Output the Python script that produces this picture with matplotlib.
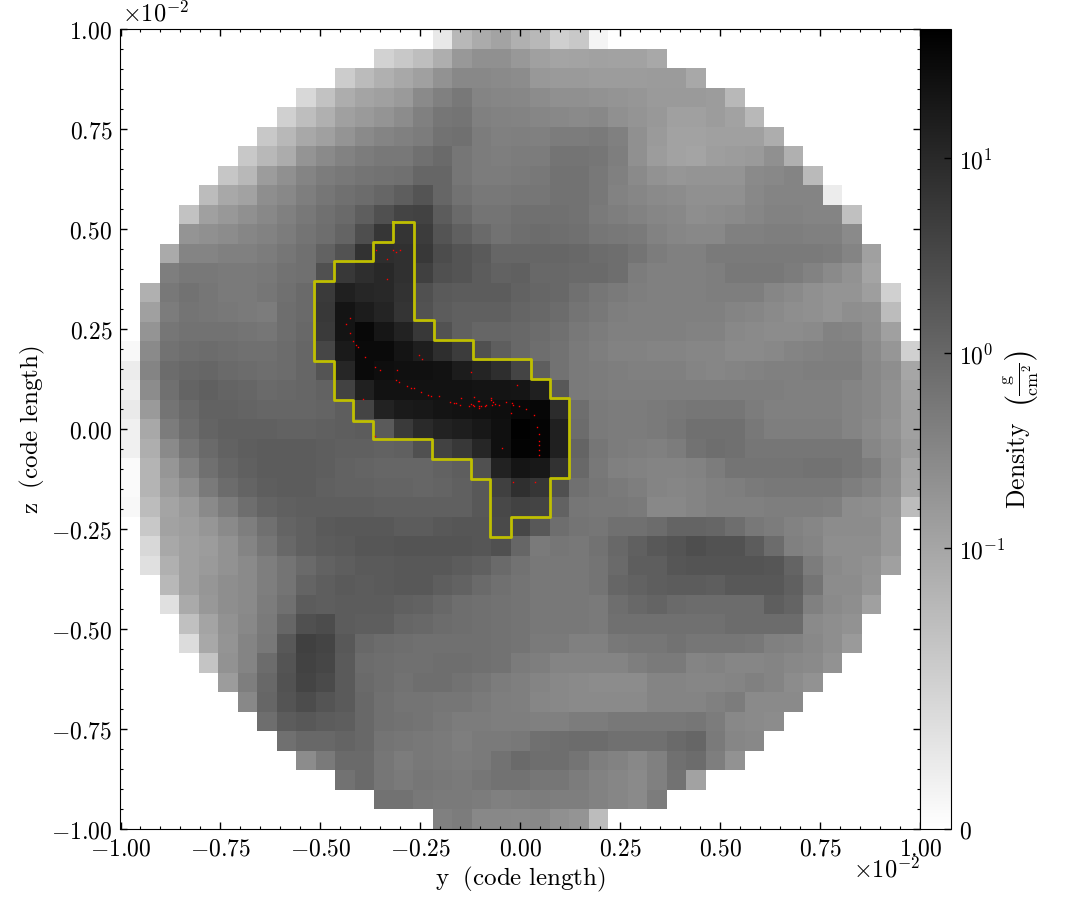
# Gas column density slice with sink particles and a yellow clump outline
import numpy as np
import matplotlib
matplotlib.use('Agg')
import matplotlib.pyplot as plt
from matplotlib.colors import SymLogNorm
from matplotlib.ticker import FuncFormatter, MultipleLocator

# Cell shades (00 = black, ff = white), top row first.
# Each row is one chord of the disk, so it is centred in the 41 column grid.
shade_rows = [
    "e8 b8 ab a3 b0 b8 cf c8 f4",
    "d2 c8 be ae 98 90 90 98 a0 a4 a3 a1 a2 a2 a8",
    "cc bb b0 a8 a0 92 88 88 8a 8c 98 9a 9a 9c 9c 9c 9b 9b a8",
    "d8 c2 ad a4 a0 9a 8a 80 78 84 86 87 8c 90 90 92 94 96 9a 9a 9a 9c b8",
    "d0 be b0 a0 9a 94 8c 80 76 74 80 82 83 86 88 8a 88 90 94 98 a0 a0 9c a2 b8",
    "c8 b8 a8 a0 94 8a 84 80 7c 72 70 7c 80 7f 80 7c 7c 7a 80 90 9a a2 a2 a0 a0 a0 ad",
    "c8 b8 ac 94 8a 82 7c 78 78 70 6a 76 7c 7e 7c 7c 74 74 76 7e 90 9c a2 a4 9e 9c 9a 90 b0",
    "c6 b8 9c 90 84 7c 78 74 72 70 66 66 76 7c 7c 7a 78 72 72 78 80 8a 92 96 94 94 94 8a 88 84 ba",
    "bc a8 a2 8e 88 7e 76 70 6c 66 5e 54 66 72 78 78 76 76 72 72 78 82 86 8a 8c 90 90 90 88 84 84 84 ec",
    "c2 a0 98 90 88 80 78 70 6a 5e 50 44 42 5c 6a 74 74 70 70 70 72 7a 7e 82 86 88 8e 8c 8a 86 82 82 84 84 c0",
    "94 90 8c 86 82 7c 74 6e 64 4e 36 34 3c 54 60 6a 72 6e 6c 6e 70 76 78 7a 82 86 88 88 80 80 7e 7e 80 80 8a",
    "aa 84 84 80 80 7c 76 70 62 52 32 2e 30 38 4c 54 5a 66 66 66 66 68 6c 6e 74 7c 80 80 7a 7a 7a 7a 7a 7a 7c 84 a0",
    "7e 78 78 7a 7a 78 72 70 50 38 2e 28 30 40 50 54 5c 62 60 68 68 6a 6a 6e 7c 80 80 80 7e 78 78 78 7c 82 8a 92 a4",
    "b0 78 72 76 7a 7a 76 70 6a 3a 20 26 28 32 50 5a 5c 5c 5c 62 66 68 70 76 7a 7e 80 80 80 7e 7e 7e 86 8a 90 94 94 9e d0",
    "a0 7c 74 76 78 7a 7c 6e 6a 38 14 1c 24 34 52 5c 60 60 60 65 68 6c 74 78 7e 80 80 80 80 80 84 86 8a 8e 90 94 8e 90 bc",
    "94 76 72 72 72 74 76 6e 68 3a 14 08 16 22 38 52 60 66 66 68 6c 70 78 7c 80 80 80 80 82 82 88 8a 8c 8c 8a 82 84 8e a0",
    "f8 8a 72 6e 6c 6e 70 70 6c 66 46 1a 0a 0a 14 1e 2e 3c 50 5e 68 6e 72 7a 7e 82 82 84 84 86 86 8a 8a 88 84 82 80 80 8a 96 d0",
    "ec 84 6c 68 66 6a 6c 6e 6c 66 54 26 0a 0e 10 10 12 1c 24 2e 44 5e 72 7a 7c 7e 80 80 80 84 86 84 82 80 80 7e 7e 7e 88 8e a6",
    "f0 8c 70 64 60 64 66 6a 68 66 62 42 20 12 12 12 12 12 14 14 15 20 58 7a 7c 7e 7e 7e 7e 7e 7e 7e 7e 7e 80 80 80 84 88 90 a2",
    "ea 9a 74 6a 62 62 64 66 66 66 64 5e 44 22 1a 18 14 12 10 0e 08 06 2c 6e 7a 7c 7c 7a 78 76 76 76 7c 80 80 80 80 84 88 90 a0",
    "f0 a8 7c 6e 64 60 60 60 62 62 60 5e 5c 5a 3a 2a 22 1e 18 10 01 04 20 6c 7a 7c 7c 7a 76 70 70 70 78 7e 7e 7e 7e 84 8a 92 a0",
    "f0 ae 8a 76 6a 62 5e 5c 5c 5c 5e 60 60 62 60 50 42 38 26 10 03 04 20 64 76 7c 7e 80 7c 72 6e 70 76 76 76 76 76 76 86 8e 9c",
    "fa b4 96 82 70 66 60 5c 5c 5c 5e 62 64 66 66 66 62 5e 50 22 15 18 32 68 78 80 82 84 84 82 7c 74 74 74 74 72 72 76 7c 8c a4",
    "fa b4 9c 8e 7a 6c 64 5e 5c 5c 60 62 62 64 64 66 64 60 58 40 2f 36 50 70 76 7a 7e 84 86 84 80 7e 7a 78 78 78 78 7e 84 8e a6",
    "f8 bc a4 9a 8a 7c 6e 64 60 5e 5e 5e 5e 60 60 60 60 60 58 48 42 44 62 76 78 78 7a 88 88 84 80 80 80 7e 7e 7e 80 8c 8e 94 bc",
    "c8 a2 9e 96 8a 7e 70 64 60 5a 58 58 58 5c 5c 58 56 56 4a 47 58 6e 74 76 70 70 6c 64 64 66 6e 78 7c 82 86 8c 8c 8c 98",
    "d8 a8 a0 9c 92 84 76 68 60 5c 5a 56 56 54 54 54 54 56 50 66 7a 76 78 72 68 60 58 54 4e 52 52 5c 6c 80 84 8e 8e 8e 98",
    "e0 b0 a0 9a 92 8a 7e 74 6a 62 5e 5a 5a 58 58 58 5c 60 6a 72 78 78 78 74 6a 5e 5e 56 54 54 54 54 56 64 7c 8a 8e 92 a0",
    "b8 a0 96 8e 8a 7e 74 64 5e 5a 5c 5a 58 58 5e 62 6a 70 74 78 78 78 74 66 62 5e 5c 5c 5e 58 58 58 60 74 8c 8c 94",
    "e0 aa 98 8e 8a 7c 70 5c 5e 5c 5c 5c 60 62 68 6e 70 72 74 78 78 78 7a 6e 68 64 6a 6c 6c 6c 6c 5e 64 80 8a 8e a0",
    "c0 a4 92 88 7a 66 50 4c 5c 5e 5e 66 68 6c 6e 70 72 74 78 78 78 7a 70 70 70 70 70 70 6c 6c 6c 6c 8a 8e 92",
    "dc a8 94 84 78 58 40 44 58 68 6c 6e 70 70 70 70 72 74 7a 7a 80 80 78 76 76 72 76 76 76 78 80 82 88 8e 9a",
    "c4 92 84 6c 54 42 46 5a 6c 6e 70 70 6e 6e 70 72 7b 7e 84 84 84 84 7e 7a 7a 84 82 86 86 84 88 8a 92",
    "9c 7e 68 52 44 4a 5a 6a 6e 72 6e 6e 72 76 7c 7f 84 88 8a 8c 8c 8c 84 84 86 86 84 80 84 8c 92",
    "88 66 54 4c 54 5a 68 70 74 74 76 76 7a 7e 7f 86 88 8a 8a 8a 8a 84 84 84 80 7c 8a 8a 8a",
    "6e 5c 58 5c 5e 68 70 72 74 78 7c 7c 7e 7e 80 80 7c 7c 78 78 78 78 76 7c 88 8a 8c",
    "70 68 68 64 68 74 76 78 7a 7e 7a 7a 78 70 6e 6c 6c 70 70 70 6a 66 7a 86 88",
    "8c 7a 6a 6a 76 7c 78 7a 7c 7a 72 6a 6e 6e 74 7e 82 88 80 70 6c 7e 92",
    "72 6a 76 7a 76 78 7a 76 72 72 76 76 7c 82 86 8a 80 72 a2",
    "72 72 78 7a 7a 7c 80 7e 7c 7e 7e 82 86 8a 7c",
    "80 7c 88 88 89 88 90 94 bc",
]

# clump outline, units of 1e-2 code length
contour_y = [-0.318, -0.267, -0.267, -0.217, -0.217, -0.119, -0.119, 0.026, 0.026, 0.075,
             0.075, 0.123, 0.123, 0.075, 0.075, -0.022, -0.022, -0.076, -0.076, -0.123,
             -0.123, -0.221, -0.221, -0.368, -0.368, -0.418, -0.418, -0.467, -0.467, -0.517,
             -0.517, -0.467, -0.467, -0.368, -0.368, -0.318, -0.318]
contour_z = [0.518, 0.518, 0.272, 0.272, 0.2225, 0.2225, 0.174, 0.174, 0.124, 0.124,
             0.077, 0.077, -0.1225, -0.1225, -0.221, -0.221, -0.271, -0.271, -0.124, -0.124,
             -0.076, -0.076, -0.026, -0.026, 0.021, 0.021, 0.072, 0.072, 0.17, 0.17,
             0.369, 0.369, 0.419, 0.419, 0.4675, 0.4675, 0.518]

# sink particles
part_y = [-0.426, -0.435, -0.426, -0.418, -0.411, -0.406, -0.389, -0.3625, -0.35, -0.309,
          -0.312, -0.304, -0.284, -0.2725, -0.266, -0.248, -0.231, -0.224, -0.2025, -0.175,
          -0.165, -0.161, -0.15, -0.1475, -0.116, -0.124, -0.127, -0.118, -0.115, -0.106,
          -0.1025, -0.104, -0.102, -0.0975, -0.088, -0.085, -0.0725, -0.0725, -0.068, -0.071,
          -0.064, -0.052, -0.035, -0.021, -0.017, -0.0025, 0.014, -0.0225, 0.034, 0.042,
          0.0475, 0.0475, 0.0475, 0.0475, 0.046, -0.046, -0.008, -0.124, -0.2525, -0.247,
          -0.3925, -0.3625, -0.018, 0.037, -0.36, -0.319, -0.312, -0.301, -0.334, -0.334]
part_z = [0.278, 0.262, 0.239, 0.221, 0.21, 0.205, 0.179, 0.154, 0.148, 0.147,
          0.1225, 0.118, 0.108, 0.1025, 0.1025, 0.0925, 0.085, 0.0825, 0.083, 0.0675,
          0.065, 0.064, 0.061, 0.0775, 0.08, 0.063, 0.0575, 0.06, 0.057, 0.071,
          0.07, 0.057, 0.0525, 0.057, 0.057, 0.061, 0.0775, 0.073, 0.068, 0.059,
          0.0625, 0.06, 0.067, 0.066, 0.061, 0.058, 0.05, 0.04, 0.034, 0.005,
          -0.012, -0.029, -0.039, -0.0525, -0.066, -0.0475, 0.11, 0.142, 0.184, 0.176,
          0.074, -0.017, -0.133, -0.132, 0.4475, 0.448, 0.4425, 0.448, 0.426, 0.376]

cbar_ticks = [0, 0.1, 1, 10]
cbar_labels = ['$0$', '$10^{-1}$', '$10^{0}$', '$10^{1}$']

plt.rcParams['mathtext.fontset'] = 'cm'
plt.rcParams['font.family'] = ['cmr10', 'DejaVu Serif']
plt.rcParams['axes.formatter.use_mathtext'] = True
fs = 17

norm = SymLogNorm(linthresh=0.047, linscale=1.0, vmin=0, vmax=46, base=10)

# shades go through the colorbar's scale to get densities back
n = 41
density = np.full((n, n), np.nan)
for i, row in enumerate(shade_rows):
    vals = np.array([int(s, 16) for s in row.split()], dtype=float)
    start = (n - len(vals)) // 2
    density[i, start:start + len(vals)] = norm.inverse(1 - vals / 255.0)

W, H = 1084, 920
fig = plt.figure(figsize=(W / 100, H / 100), dpi=100)
ax = fig.add_axes([120.5 / W, 1 - 830 / H, 799.5 / W, 800 / H])
cax = fig.add_axes([920 / W, 1 - 830 / H, 30.5 / W, 800 / H])

edges = np.linspace(-1, 1, n + 1)
mesh = ax.pcolormesh(edges, edges[::-1], density, cmap='gray_r', norm=norm)
ax.plot(contour_y, contour_z, color='#bfbf00', lw=2.0, solid_joinstyle='round')
ax.plot(part_y, part_z, 's', color='red', ms=1.0, mew=0)

ax.set_xlim(-1, 1)
ax.set_ylim(-1, 1)
fmt = FuncFormatter(lambda v, pos: f'${v:.2f}$')
for axis in (ax.xaxis, ax.yaxis):
    axis.set_major_locator(MultipleLocator(0.25))
    axis.set_minor_locator(MultipleLocator(0.05))
    axis.set_major_formatter(fmt)
ax.tick_params(which='both', direction='in', top=True, right=True, labelsize=fs)
ax.tick_params(which='major', length=5, width=1, pad=6)
ax.tick_params(which='minor', length=2.5, width=0.8)
ax.set_xlabel(r'$\mathrm{y\ \ (code\ length)}$', fontsize=18, labelpad=3)
ax.set_ylabel(r'$\mathrm{z\ \ (code\ length)}$', fontsize=18, labelpad=3)
ax.text(0.002, 1.004, r'$\times 10^{-2}$', transform=ax.transAxes, fontsize=17.5, ha='left', va='bottom')
ax.text(1.0, -0.034, r'$\times 10^{-2}$', transform=ax.transAxes, fontsize=17.5, ha='right', va='top')

cbar = fig.colorbar(mesh, cax=cax, ticks=cbar_ticks)
cbar.ax.minorticks_off()
cbar.ax.set_yticklabels(cbar_labels)
cbar.ax.tick_params(direction='in', length=5, width=1, labelsize=fs, pad=6)
cbar.set_label(r'$\mathrm{Density}\ \ \left(\frac{\mathrm{g}}{\mathrm{cm}^{2}}\right)$', fontsize=18.5, labelpad=-3)

fig.savefig('out.png', dpi=100)
